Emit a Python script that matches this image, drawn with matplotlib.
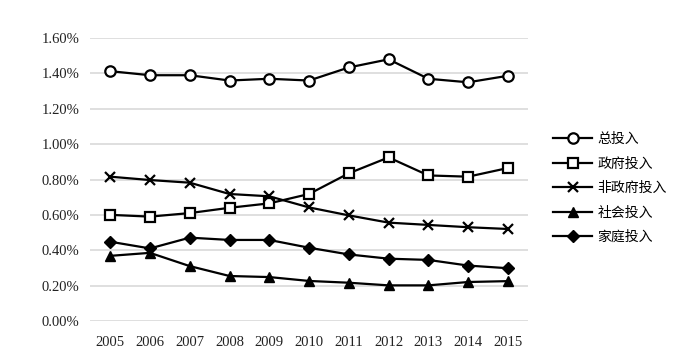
import matplotlib
matplotlib.use("Agg")
import matplotlib.pyplot as plt
from matplotlib.ticker import FuncFormatter

years = [2005, 2006, 2007, 2008, 2009, 2010, 2011, 2012, 2013, 2014, 2015]
total = [1.413, 1.39, 1.39, 1.36, 1.37, 1.36, 1.434, 1.48, 1.37, 1.35, 1.387]
government = [0.60, 0.59, 0.61, 0.64, 0.665, 0.718, 0.835, 0.925, 0.823, 0.816, 0.865]
non_government = [0.816, 0.797, 0.782, 0.718, 0.705, 0.642, 0.597, 0.556, 0.543, 0.53, 0.52]
social = [0.368, 0.385, 0.31, 0.254, 0.248, 0.226, 0.216, 0.201, 0.201, 0.22, 0.225]
household = [0.448, 0.41, 0.471, 0.458, 0.458, 0.414, 0.376, 0.352, 0.345, 0.313, 0.298]
labels = ["总投入", "政府投入", "非政府投入", "社会投入", "家庭投入"]
yticks = [0.0, 0.2, 0.4, 0.6, 0.8, 1.0, 1.2, 1.4, 1.6]

fig = plt.figure(figsize=(7, 3.63), dpi=100)
ax = fig.add_axes([0.129, 0.116, 0.625, 0.779])

series = [total, government, non_government, social, household]
styles = [
    dict(marker="o", markerfacecolor="white", markersize=7.5, markeredgewidth=1.6),
    dict(marker="s", markerfacecolor="white", markersize=7, markeredgewidth=1.6),
    dict(marker="x", markersize=7, markeredgewidth=1.6),
    dict(marker="^", markerfacecolor="black", markersize=7),
    dict(marker="D", markerfacecolor="black", markersize=6),
]
for vals, lab, st in zip(series, labels, styles):
    ax.plot(years, vals, color="black", linewidth=1.6, markeredgecolor="black",
            label=lab, **st)

ax.set_xlim(2004.5, 2015.5)
ax.set_ylim(0, 1.6)
ax.set_yticks(yticks)
ax.set_xticks(years)
ax.yaxis.set_major_formatter(FuncFormatter(lambda v, p: f"{v:.2f}%"))
ax.grid(axis="y", color="#d9d9d9", linewidth=1.2)
ax.set_axisbelow(True)
for s in ax.spines.values():
    s.set_visible(False)
ax.tick_params(axis="y", length=0, pad=8)
ax.tick_params(axis="x", length=0, pad=11)
for t in ax.get_xticklabels() + ax.get_yticklabels():
    t.set_fontfamily("Liberation Serif")
    t.set_fontsize(10.5)
    t.set_color("#222222")

leg = ax.legend(loc="center left", bbox_to_anchor=(1.03, 0.47), frameon=False,
                prop={"family": ["Noto Sans CJK SC", "DejaVu Sans"], "size": 10},
                handlelength=2.8, labelspacing=0.75, handletextpad=0.35)

fig.savefig("out.png", dpi=100)
